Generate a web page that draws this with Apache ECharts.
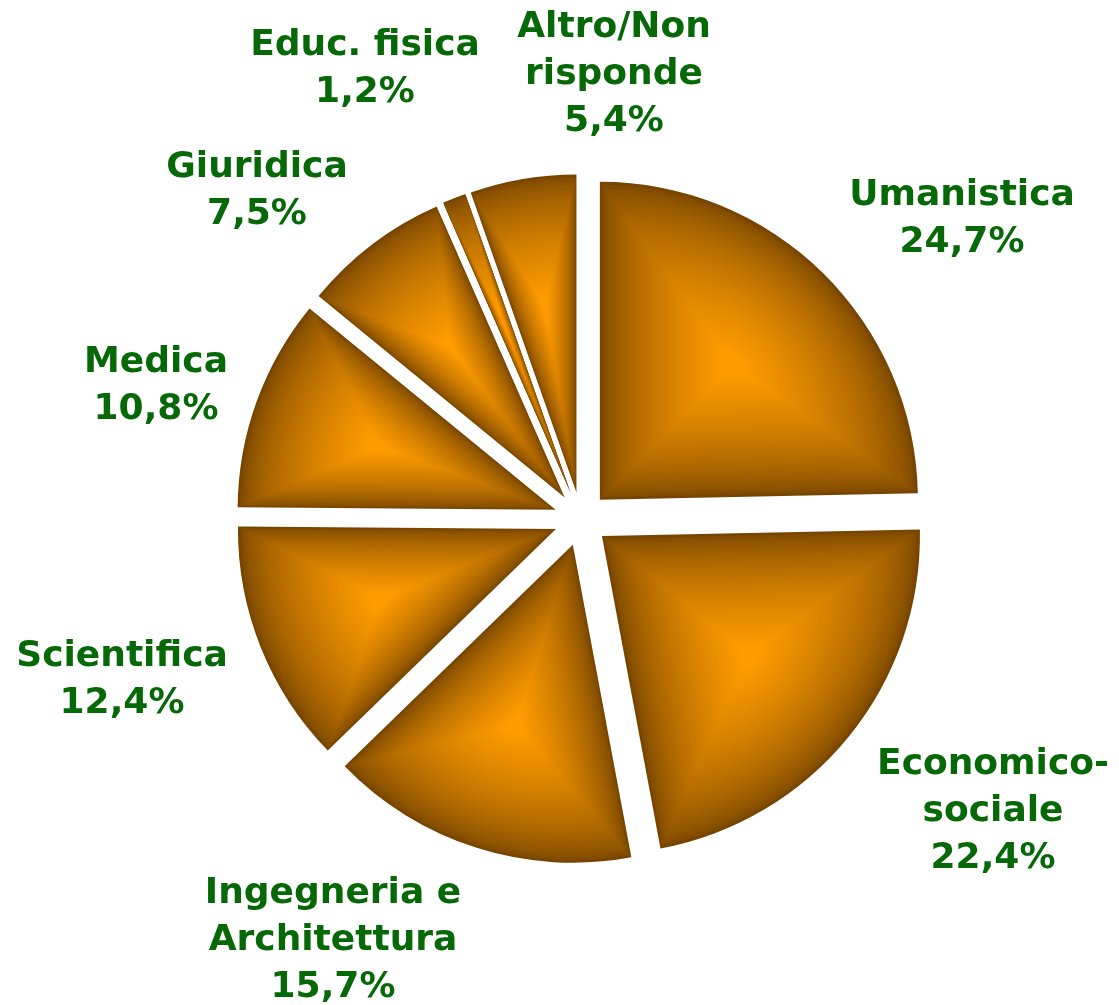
<!DOCTYPE html>
<html>
<head>
    <meta charset="utf-8">
    <title>Pie</title>
    <script src="https://cdn.jsdelivr.net/npm/echarts@6/dist/echarts.min.js"></script>
    <style>
        html, body { margin: 0; padding: 0; background: #fff; }
        #chart { width: 1119px; height: 1005px; }
    </style>
</head>
<body>
<div id="chart"></div>
<script type="text/javascript">
// categories and values (%), clockwise from 12 o'clock
var names = ['Umanistica', 'Economico-\nsociale', 'Ingegneria e\nArchitettura', 'Scientifica',
             'Medica', 'Giuridica', 'Educ. fisica', 'Altro/Non\nrisponde'];
var values = [24.7, 22.4, 15.7, 12.4, 10.8, 7.5, 1.2, 5.4];

// where each label block is centered (layout only)
var labelPos = [[962, 219], [993, 812], [333, 941], [122, 680],
                [156, 386], [257, 191], [365, 69], [614, 75]];

var chart = echarts.init(document.getElementById('chart'));

// bevel shading: the same pie is stacked several times, every layer pushed a
// bit further out and made a bit smaller, going from dark brown to orange
var LAYERS = 48;
var dark = [119, 69, 0], bright = [255, 156, 0];
function mix(t) {
    var c = dark.map(function (d, j) { return Math.round(d + (bright[j] - d) * t); });
    return 'rgb(' + c.join(',') + ')';
}

var series = [];
for (var k = 0; k < LAYERS; k++) {
    var f = k / (LAYERS - 1);
    var shift = f * 175;      // pushes the slice out along its bisector
    var rim = f * 120;        // inset from the rim
    var col = mix(Math.pow(f, 0.65));
    series.push({
        type: 'pie',
        silent: true,
        center: [581, 519],
        radius: 318 - shift - rim,
        startAngle: 90,
        clockwise: true,
        selectedMode: 'multiple',
        selectedOffset: 27 + shift,
        itemStyle: { color: col, borderWidth: 0 },
        select: { itemStyle: { color: col, borderWidth: 0 } },
        emphasis: { disabled: true },
        label: { show: false },
        labelLine: { show: false },
        data: names.map(function (n, i) {
            return { name: n, value: values[i], selected: true };
        })
    });
}

// label texts built from the data
var labels = names.map(function (n, i) {
    return {
        type: 'text',
        x: labelPos[i][0],
        y: labelPos[i][1],
        style: {
            text: n + '\n' + values[i].toFixed(1).replace('.', ',') + '%',
            fill: '#066806',
            font: 'bold 36px "DejaVu Sans"',
            lineHeight: 47,
            align: 'center',
            verticalAlign: 'middle',
            textAlign: 'center',
            textVerticalAlign: 'middle'
        }
    };
});

chart.setOption({
    animation: false,
    series: series,
    graphic: labels
});
</script>
</body>
</html>
